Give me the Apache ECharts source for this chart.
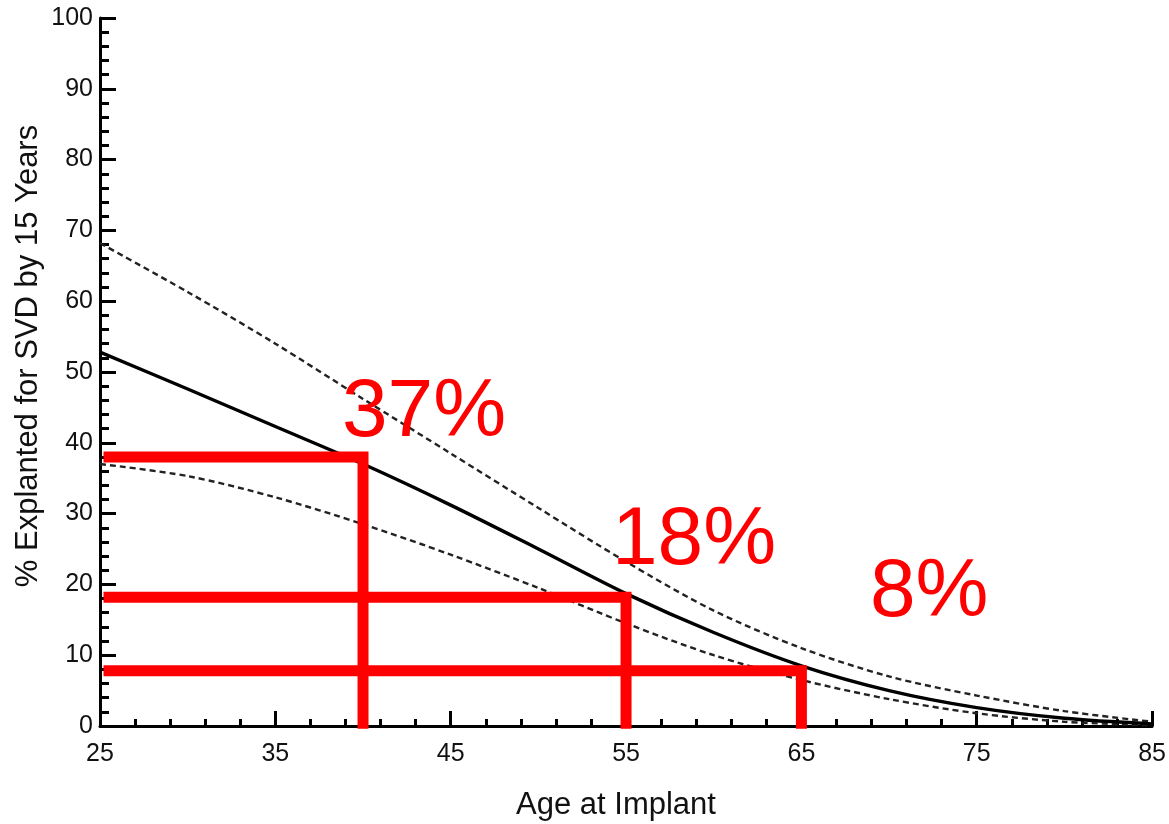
<!DOCTYPE html>
<html>
<head>
<meta charset="utf-8">
<script src="https://cdn.jsdelivr.net/npm/echarts@6/dist/echarts.min.js"></script>
<style>html,body{margin:0;padding:0;background:#fff;}#c{width:1169px;height:824px;}</style>
</head>
<body>
<div id="c"></div>
<script>
const ages = [25,30,35,40,45,50,55,60,65,70,75,80,85];
const meanCurve = [52.8,47.6,42.3,37.0,31.2,25.0,18.7,13.2,8.5,5.0,2.6,1.1,0.3];
const upperCurve = [68.2,61.3,54.0,46.2,38.5,30.8,23.2,16.3,11.0,7.0,4.3,2.1,0.6];
const lowerCurve = [37.0,35.3,32.3,28.5,24.2,19.5,14.5,10.0,6.5,3.8,1.8,0.6,0.1];
const xTicks = [25,35,45,55,65,75,85];
const yTicks = [0,10,20,30,40,50,60,70,80,90,100];
const markerAges = [40,55,65];
const markerValues = [38,18.2,7.8];
const markerLabels = ['37%','18%','8%'];
const xTitle = 'Age at Implant';
const yTitle = '% Explanted for SVD by 15 Years';

const FONT = "'Liberation Sans', Arial, Helvetica, sans-serif";
const pair = arr => ages.map((a,i)=>[a,arr[i]]);

const chart = echarts.init(document.getElementById('c'));
const series = [
  {type:'line', data:pair(upperCurve), smooth:0.3, symbol:'none', lineStyle:{color:'#222', width:2.4, type:[6,4]}},
  {type:'line', data:pair(lowerCurve), smooth:0.3, symbol:'none', lineStyle:{color:'#222', width:2.4, type:[6,4]}},
  {type:'line', data:pair(meanCurve), smooth:0.3, symbol:'none', lineStyle:{color:'#000', width:3.4}}
];
markerAges.forEach((a,i)=>{
  series.push({type:'line', clip:false, symbol:'none', z:5,
    data:[[25.2,markerValues[i]],[a,markerValues[i]],[a,-0.4]],
    lineStyle:{color:'#ff0000', width:11, cap:'butt', join:'miter'}});
});

const labelPos = [[342,413],[612,541],[870,593]];

chart.setOption({
  animation:false,
  grid:{left:100, right:12, top:18, bottom:98, containLabel:false},
  xAxis:{type:'value', min:25, max:85, interval:10,
    axisLine:{lineStyle:{color:'#000', width:3}},
    axisTick:{inside:true, length:15, lineStyle:{color:'#000', width:3}},
    minorTick:{show:true, splitNumber:5, length:7, lineStyle:{color:'#000', width:3}},
    splitLine:{show:false},
    axisLabel:{color:'#111', fontSize:25, fontFamily:FONT, margin:16,
      customValues: xTicks},
  },
  yAxis:{type:'value', min:0, max:100, interval:10,
    axisLine:{show:true, lineStyle:{color:'#000', width:3}},
    axisTick:{show:true, inside:true, length:16, lineStyle:{color:'#000', width:3}},
    minorTick:{show:true, splitNumber:5, length:9, lineStyle:{color:'#000', width:3}},
    splitLine:{show:false},
    axisLabel:{color:'#111', fontSize:25, fontFamily:FONT, margin:7}
  },
  series: series,
  graphic:[
    {type:'text', x:616, y:805, style:{text:xTitle, fill:'#111', font:'31px '+FONT, textAlign:'center', textVerticalAlign:'middle'}},
    {type:'text', x:28, y:356, rotation:Math.PI/2, style:{text:yTitle, fill:'#111', font:'31px '+FONT, textAlign:'center', textVerticalAlign:'middle'}},
  ].concat(markerLabels.map((t,i)=>({type:'text', x:labelPos[i][0], y:labelPos[i][1], z:10,
     style:{text:t, fill:'#ff0000', font:'82px '+FONT, textAlign:'left', textVerticalAlign:'middle'}})))
});
</script>
</body>
</html>
